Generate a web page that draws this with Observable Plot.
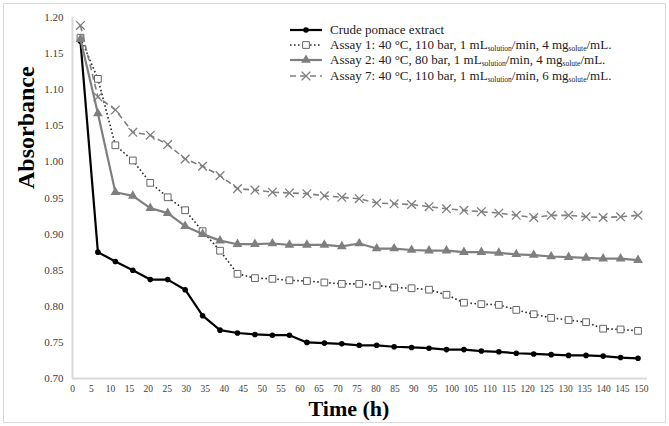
<!DOCTYPE html>
<html>
<head>
<meta charset="utf-8">
<script src="https://cdn.jsdelivr.net/npm/d3@7"></script>
<script src="https://cdn.jsdelivr.net/npm/@observablehq/plot@0.6"></script>
<style>
  body { margin: 0; background: #fff; }
  #wrap { position: relative; width: 669px; height: 426px; font-family: "Liberation Serif", "Times New Roman", serif; }
  #border { position: absolute; left: 3px; top: 3px; right: 3px; bottom: 3px; border: 1.5px solid #d9d9d9; pointer-events: none; }
  #legend { position: absolute; left: 290px; top: 22px; font-size: 13px; color: #222; }
  .row { display: flex; align-items: center; height: 15.4px; white-space: nowrap; }
  .row svg { width: 32px; height: 12px; margin-right: 8px; flex: none; }
  sub { font-size: 7.5px; vertical-align: -2px; line-height: 0; }
</style>
</head>
<body>
<div id="wrap"><div id="border"></div><div id="legend"></div></div>
<script>
// Sampling times (h)
const times = [2.1, 6.7, 11.3, 15.9, 20.5, 25.1, 29.7, 34.3, 38.9, 43.5, 48.1, 52.7, 57.2, 61.8, 66.4, 71.0, 75.6, 80.2, 84.8, 89.4, 94.0, 98.6, 103.2, 107.8, 112.4, 117.0, 121.6, 126.2, 130.8, 135.4, 139.9, 144.5, 149.1];

// Absorbance of each sample over time
const crude  = [1.167, 0.875, 0.862, 0.850, 0.837, 0.837, 0.823, 0.787, 0.767, 0.763, 0.761, 0.760, 0.760, 0.750, 0.749, 0.748, 0.746, 0.746, 0.744, 0.743, 0.742, 0.740, 0.740, 0.738, 0.737, 0.735, 0.734, 0.733, 0.732, 0.732, 0.731, 0.729, 0.728];
const assay1 = [1.172, 1.115, 1.023, 1.002, 0.971, 0.951, 0.933, 0.904, 0.877, 0.845, 0.839, 0.838, 0.836, 0.835, 0.833, 0.831, 0.831, 0.829, 0.826, 0.825, 0.823, 0.816, 0.805, 0.803, 0.802, 0.795, 0.789, 0.784, 0.781, 0.778, 0.769, 0.768, 0.766];
const assay2 = [1.170, 1.067, 0.958, 0.953, 0.936, 0.929, 0.911, 0.900, 0.891, 0.886, 0.886, 0.887, 0.885, 0.885, 0.885, 0.883, 0.887, 0.880, 0.880, 0.878, 0.877, 0.877, 0.875, 0.875, 0.874, 0.872, 0.871, 0.869, 0.868, 0.867, 0.866, 0.866, 0.864];
const assay7 = [1.189, 1.090, 1.072, 1.041, 1.037, 1.024, 1.004, 0.994, 0.981, 0.963, 0.961, 0.958, 0.957, 0.956, 0.953, 0.951, 0.949, 0.943, 0.942, 0.941, 0.938, 0.935, 0.933, 0.931, 0.929, 0.926, 0.923, 0.926, 0.926, 0.924, 0.923, 0.924, 0.926];

// Axis ticks
const xTicks = [0, 5, 10, 15, 20, 25, 30, 35, 40, 45, 50, 55, 60, 65, 70, 75, 80, 85, 90, 95, 100, 105, 110, 115, 120, 125, 130, 135, 140, 145, 150];
const yTicks = [0.70, 0.75, 0.80, 0.85, 0.90, 0.95, 1.00, 1.05, 1.10, 1.15, 1.20];

// Legend entries: plain text with subscript parts
const legendLabels = [
  [["Crude pomace extract"]],
  [["Assay 1: 40 °C, 110 bar, 1 mL"], ["solution", true], ["/min, 4 mg"], ["solute", true], ["/mL."]],
  [["Assay 2: 40 °C, 80 bar, 1 mL"], ["solution", true], ["/min, 4 mg"], ["solute", true], ["/mL."]],
  [["Assay 7: 40 °C, 110 bar, 1 mL"], ["solution", true], ["/min, 6 mg"], ["solute", true], ["/mL."]]
];

const styles = [
  {values: crude,  stroke: "#000",    strokeWidth: 2.2, dash: null,      symbol: "circle",   r: 2.8, fill: "#000",    mstroke: "none",    mwidth: 0},
  {values: assay1, stroke: "#2b2b2b", strokeWidth: 1.6, dash: "1.6,2.4", symbol: "square",   r: 3.8, fill: "#fff",    mstroke: "#666",    mwidth: 1},
  {values: assay2, stroke: "#7f7f7f", strokeWidth: 2.2, dash: null,      symbol: "triangle", r: 3.6, fill: "#7f7f7f", mstroke: "none",    mwidth: 0},
  {values: assay7, stroke: "#7f7f7f", strokeWidth: 1.6, dash: "6,4",     symbol: "times",    r: 4.0, fill: "none",    mstroke: "#7f7f7f", mwidth: 1.3}
];

const xDomain = [0, 151.6];
const yDomain = [0.70, 1.20];
const serif = "'Liberation Serif', 'Times New Roman', serif";

const seriesMarks = styles.flatMap(s => {
  const rows = times.map((t, i) => ({t, v: s.values[i]}));
  return [
    Plot.line(rows, {x: "t", y: "v", stroke: s.stroke, strokeWidth: s.strokeWidth, strokeDasharray: s.dash, strokeLinecap: s.dash ? "butt" : "round", strokeLinejoin: "round"}),
    Plot.dot(rows, {x: "t", y: "v", symbol: s.symbol, r: s.r, fill: s.fill, stroke: s.mstroke, strokeWidth: s.mwidth})
  ];
});

const chart = Plot.plot({
  width: 669,
  height: 426,
  marginLeft: 72,
  marginRight: 22,
  marginTop: 17,
  marginBottom: 48,
  style: {fontFamily: serif, color: "#404040", background: "transparent"},
  x: {domain: xDomain},
  y: {domain: yDomain},
  marks: [
    Plot.ruleY([yDomain[0]], {stroke: "#d9d9d9", strokeWidth: 2}),
    Plot.ruleX([xDomain[0]], {stroke: "#d9d9d9", strokeWidth: 2}),
    Plot.axisY({ticks: yTicks, tickSize: 0, tickPadding: 9, tickFormat: d => d.toFixed(2), fontSize: 11, label: null}),
    Plot.axisX({ticks: xTicks, tickSize: 0, tickPadding: 7, fontSize: 9.5, label: null}),
    ...seriesMarks,
    Plot.text(["Absorbance"], {text: d => d, frameAnchor: "left", dx: -46, dy: -9, rotate: -90, fontSize: 24, fontWeight: "bold", fill: "#000"}),
    Plot.text(["Time (h)"], {text: d => d, frameAnchor: "bottom", dx: -11, dy: 37, fontSize: 22, fontWeight: "bold", fill: "#000"})
  ]
});

const wrap = document.getElementById("wrap");
wrap.insertBefore(chart, wrap.firstChild);

// Legend with line/marker swatches
const symbolMap = {circle: d3.symbolCircle, square: d3.symbolSquare, triangle: d3.symbolTriangle, times: d3.symbolTimes};
const legend = d3.select("#legend");
styles.forEach((s, i) => {
  const row = legend.append("div").attr("class", "row");
  const sw = row.append("svg").attr("viewBox", "0 0 32 12");
  sw.append("line").attr("x1", 0).attr("x2", 32).attr("y1", 6).attr("y2", 6)
    .attr("stroke", s.stroke).attr("stroke-width", s.strokeWidth).attr("stroke-dasharray", s.dash);
  sw.append("path").attr("transform", "translate(16,6)")
    .attr("d", d3.symbol(symbolMap[s.symbol], Math.PI * s.r * s.r)())
    .attr("fill", s.fill).attr("stroke", s.mstroke).attr("stroke-width", s.mwidth);
  const label = row.append("span");
  legendLabels[i].forEach(([txt, isSub]) => {
    if (isSub) label.append("sub").text(txt);
    else label.append("span").text(txt);
  });
});
</script>
</body>
</html>
